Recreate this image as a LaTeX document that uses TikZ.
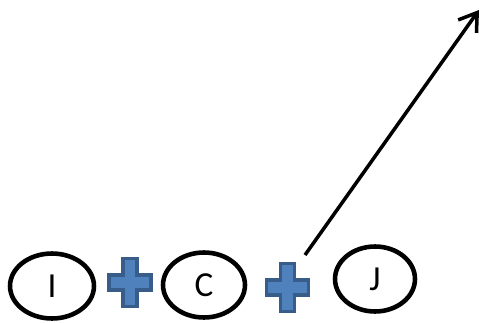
\documentclass[tikz,border=0pt]{standalone}
\usepackage{fontspec}
\setmainfont{Carlito}
\usetikzlibrary{shapes.geometric,arrows.meta}

\definecolor{plusfill}{HTML}{4F81BD}
\definecolor{plusline}{HTML}{385D8A}

\tikzset{
  letter/.style={draw, ellipse, line width=2.6pt, inner sep=0pt,
    minimum height=1.3cm, font=\fontsize{20}{20}\selectfont},
  plusmark/.style={fill=plusfill, draw=plusline, line width=2.1pt, line join=miter},
}

\begin{document}
\begin{tikzpicture}[x=0.02cm, y=0.02cm]
    \useasboundingbox (0,0) rectangle (483,322);
    \node[letter, minimum width=1.68cm] (I) at (52,36) {I};
    \node[letter, minimum width=1.64cm] (C) at (204,37) {C};
    \node[letter, minimum width=1.6cm] (J) at (375,43) {J};
    \foreach \cx/\cy in {130/39.5, 287.5/34.5} {
        \draw[plusmark, shift={(\cx,\cy)}]
            (-7,24) -- (7,24) -- (7,7.5) -- (21,7.5) -- (21,-7.5) -- (7,-7.5)
            -- (7,-24) -- (-7,-24) -- (-7,-7.5) -- (-21,-7.5) -- (-21,7.5)
            -- (-7,7.5) -- cycle;
    }
    \coordinate (start) at (305,67);
    \coordinate (tip) at (479,312);
    \draw[line width=2pt, -{Straight Barb[length=0.34cm,width=0.45cm]}] (start) -- (tip);
\end{tikzpicture}
\end{document}
